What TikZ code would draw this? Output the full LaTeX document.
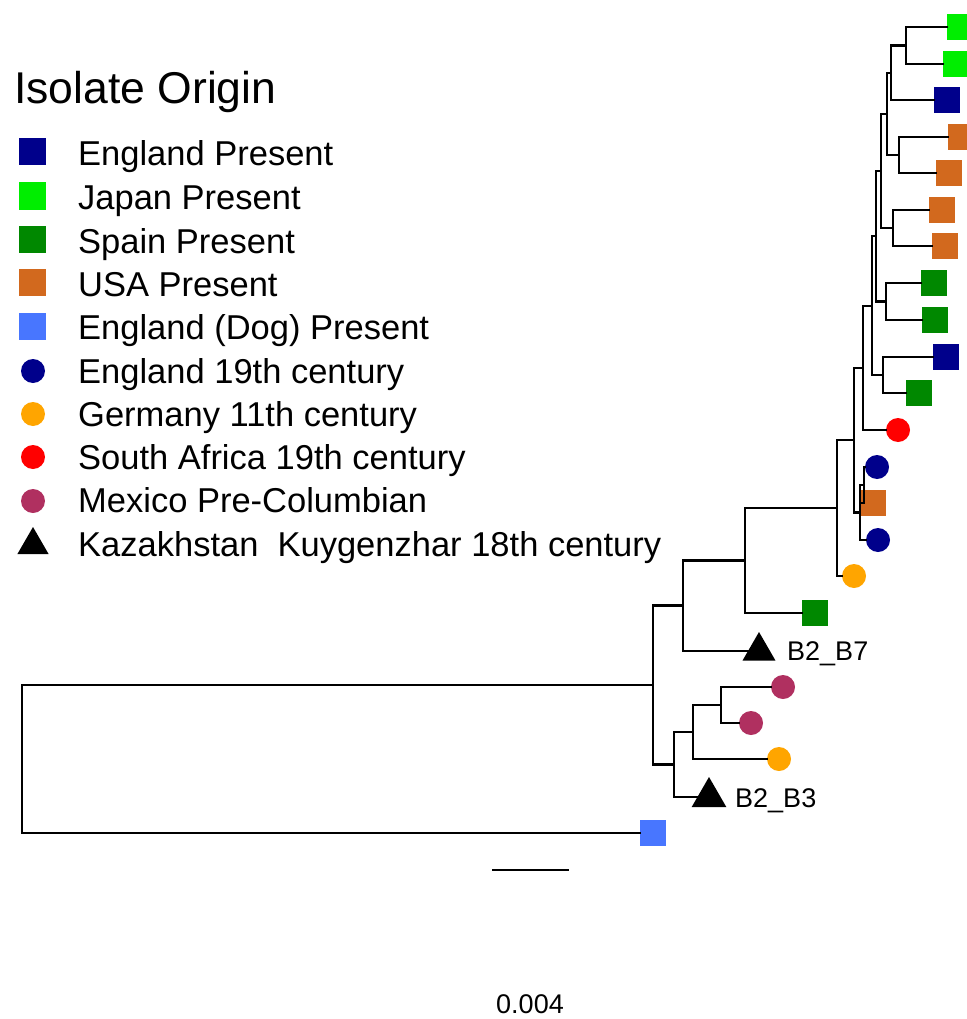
\documentclass[tikz,border=0pt]{standalone}
\usepackage{fontspec}
\setmainfont{Liberation Sans}
\usetikzlibrary{shapes.geometric}

\definecolor{engpres}{RGB}{0,0,139}
\definecolor{jappres}{RGB}{0,238,0}
\definecolor{spapres}{RGB}{0,136,0}
\definecolor{usapres}{RGB}{210,105,30}
\definecolor{dogpres}{RGB}{72,118,255}
\definecolor{ger11}{RGB}{255,165,0}
\definecolor{saf19}{RGB}{255,0,0}
\definecolor{mexpre}{RGB}{176,48,96}

\tikzset{
  sqmark/.style={rectangle, fill=#1, draw=none, minimum size=26pt, inner sep=0pt},
  dotmark/.style={circle, fill=#1, draw=none, minimum size=24pt, inner sep=0pt},
  trimark/.style={regular polygon, regular polygon sides=3, fill=black, draw=none,
                  minimum size=38pt, inner sep=0pt},
  branch/.style={line width=2.2pt, line join=miter, line cap=rect},
  legtext/.style={anchor=base west, inner sep=0pt, font=\fontsize{34.5pt}{40pt}\selectfont},
  tiplabel/.style={anchor=base west, inner sep=0pt, font=\fontsize{27pt}{32pt}\selectfont},
}

\begin{document}
\begin{tikzpicture}[x=1pt, y=-1pt]
\useasboundingbox (0,0) rectangle (966,1019);

% ---------- legend ----------
\node[anchor=base west, inner sep=0pt, font=\fontsize{44.5pt}{50pt}\selectfont]
  (legtitle) at (14,104) {Isolate Origin};

\node[sqmark=engpres, minimum size=27pt] (lk1) at (32,152) {};
\node[sqmark=jappres, minimum size=27pt] (lk2) at (32,196) {};
\node[sqmark=spapres, minimum size=27pt] (lk3) at (32,239) {};
\node[sqmark=usapres, minimum size=27pt] (lk4) at (32,282) {};
\node[sqmark=dogpres, minimum size=27pt] (lk5) at (32,326) {};
\node[dotmark=engpres] (lk6) at (33,371) {};
\node[dotmark=ger11]   (lk7) at (33,414) {};
\node[dotmark=saf19]   (lk8) at (33,457) {};
\node[dotmark=mexpre]  (lk9) at (33,501) {};
\node[trimark, minimum size=36pt] (lk10) at (33,545) {};

\node[legtext] (lt1)  at (78,166) {England Present};
\node[legtext] (lt2)  at (78,209) {Japan Present};
\node[legtext] (lt3)  at (78,253) {Spain Present};
\node[legtext] (lt4)  at (78,296) {USA Present};
\node[legtext] (lt5)  at (78,339) {England (Dog) Present};
\node[legtext] (lt6)  at (78,383) {England 19th century};
\node[legtext] (lt7)  at (78,426) {Germany 11th century};
\node[legtext] (lt8)  at (78,469) {South Africa 19th century};
\node[legtext] (lt9)  at (78,512) {Mexico Pre-Columbian};
\node[legtext] (lt10) at (78,556) {Kazakhstan\ \ Kuygenzhar 18th century};

% ---------- tips ----------
\node[sqmark=jappres] (t1)  at (960,27)  {};
\node[sqmark=jappres] (t2)  at (956,64)  {};
\node[sqmark=engpres] (t3)  at (947,100) {};
\node[sqmark=usapres] (t4)  at (961,137) {};
\node[sqmark=usapres] (t5)  at (949,173) {};
\node[sqmark=usapres] (t6)  at (942,210) {};
\node[sqmark=usapres] (t7)  at (945,246) {};
\node[sqmark=spapres] (t8)  at (934,283) {};
\node[sqmark=spapres] (t9)  at (935,320) {};
\node[sqmark=engpres] (t10) at (946,357) {};
\node[sqmark=spapres] (t11) at (919,393) {};
\node[dotmark=saf19]  (t12) at (898,430) {};
\node[dotmark=engpres](t13) at (877,467) {};
\node[sqmark=usapres] (t14) at (873,503) {};
\node[dotmark=engpres](t15) at (878,540) {};
\node[dotmark=ger11]  (t16) at (854,576) {};
\node[sqmark=spapres] (t17) at (815,613) {};
\node[trimark]        (t18) at (759,651) {};
\node[dotmark=mexpre] (t19) at (783,687) {};
\node[dotmark=mexpre] (t20) at (751,723) {};
\node[dotmark=ger11]  (t21) at (779,759) {};
\node[trimark, minimum size=40pt] (t22) at (709,797) {};
\node[sqmark=dogpres] (t23) at (653,833) {};

\node[tiplabel] (lb7) at (787,660) {B2\_B7};
\node[tiplabel] (lb3) at (735,807) {B2\_B3};

% ---------- internal nodes ----------
\coordinate (nA) at (906,45.5);
\coordinate (nB) at (891,72.75);
\coordinate (nC) at (899,155);
\coordinate (nD) at (887,113.9);
\coordinate (nE) at (893,228);
\coordinate (nF) at (881,171);
\coordinate (nG) at (886,301.5);
\coordinate (nH) at (876,236.25);
\coordinate (nI) at (883,375);
\coordinate (nJ) at (872,305.6);
\coordinate (nK) at (863,367.8);
\coordinate (nL) at (864,485);
\coordinate (nM) at (860,512.5);
\coordinate (nN) at (854,440.1);
\coordinate (nO) at (837,508);
\coordinate (nP) at (745,560.5);
\coordinate (nQ) at (683,605.5);
\coordinate (nU) at (721,705);
\coordinate (nT) at (693,732);
\coordinate (nS) at (674,764.5);
\coordinate (nR) at (653,685);
\coordinate (nRoot) at (22,759);

% ---------- branches ----------
\begin{scope}[branch]
\draw (nA) |- (t1);  \draw (nA) |- (t2);
\draw (nB) |- (nA);  \draw (nB) |- (t3);
\draw (nC) |- (t4);  \draw (nC) |- (t5);
\draw (nD) |- (nB);  \draw (nD) |- (nC);
\draw (nE) |- (t6);  \draw (nE) |- (t7);
\draw (nF) |- (nD);  \draw (nF) |- (nE);
\draw (nG) |- (t8);  \draw (nG) |- (t9);
\draw (nH) |- (nF);  \draw (nH) |- (nG);
\draw (nI) |- (t10); \draw (nI) |- (t11);
\draw (nJ) |- (nH);  \draw (nJ) |- (nI);
\draw (nK) |- (nJ);  \draw (nK) |- (t12);
\draw (nL) |- (t13); \draw (nL) |- (t14);
\draw (nM) |- (nL);  \draw (nM) |- (t15);
\draw (nN) |- (nK);  \draw (nN) |- (nM);
\draw (nO) |- (nN);  \draw (nO) |- (t16);
\draw (nP) |- (nO);  \draw (nP) |- (t17);
\draw (nQ) |- (nP);  \draw (nQ) |- (t18);
\draw (nU) |- (t19); \draw (nU) |- (t20);
\draw (nT) |- (nU);  \draw (nT) |- (t21);
\draw (nS) |- (nT);  \draw (nS) |- (t22);
\draw (nR) |- (nQ);  \draw (nR) |- (nS);
\draw (nRoot) |- (nR); \draw (nRoot) |- (t23);
\end{scope}

% ---------- scale bar ----------
\coordinate (sbL) at (492,870);
\coordinate (sbR) at (569,870);
\draw[line width=2.2pt] (sbL) -- (sbR);
\node[anchor=base, inner sep=0pt, font=\fontsize{27pt}{32pt}\selectfont]
  (sbtext) at (530,1013) {0.004};
\end{tikzpicture}
\end{document}
